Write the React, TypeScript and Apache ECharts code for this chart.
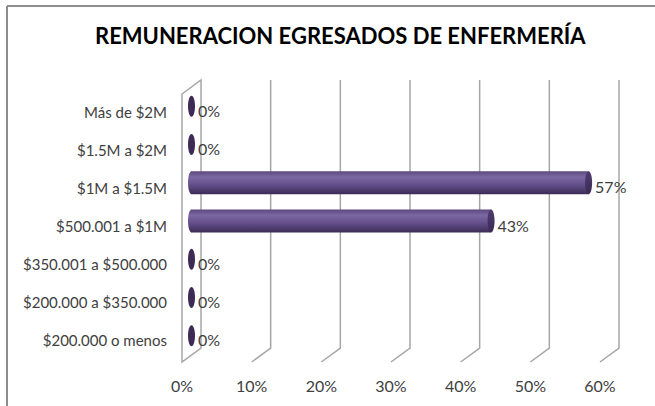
import React, { useEffect, useRef } from "react";
import * as echarts from "echarts";

const titleText = "REMUNERACION EGRESADOS DE ENFERMERÍA";
const categories = [
  "$200.000 o menos",
  "$200.000 a $350.000",
  "$350.001 a $500.000",
  "$500.001 a $1M",
  "$1M a $1.5M",
  "$1.5M a $2M",
  "Más de $2M",
];
const values = [0, 0, 0, 43, 57, 0, 0];
const xTicks = [0, 10, 20, 30, 40, 50, 60];

const FONT = "Lato, 'Open Sans', sans-serif";
const DX = 9.5;
const DY = 7;

export default function App() {
  const ref = useRef<HTMLDivElement>(null);
  useEffect(() => {
    if (!ref.current) return;
    const chart = echarts.init(ref.current, null, { renderer: "svg" });
    const xMax = xTicks[xTicks.length - 1];
    const bodyGrad = new echarts.graphic.LinearGradient(0, 0, 0, 1, [
      { offset: 0, color: "#5c487c" },
      { offset: 0.25, color: "#7b68a3" },
      { offset: 0.55, color: "#68528f" },
      { offset: 1, color: "#3c2c55" },
    ]);
    const capGrad = new echarts.graphic.LinearGradient(0, 0, 0, 1, [
      { offset: 0, color: "#4f3c6e" },
      { offset: 1, color: "#3a2a54" },
    ]);
    const option: any = {
      animation: false,
      backgroundColor: "#ffffff",
      title: {
        text: titleText,
        left: 90,
        top: 19,
        textStyle: { fontFamily: FONT, fontSize: 22, fontWeight: "bold", color: "#000" },
      },
      graphic: [
        { type: "line", shape: { x1: 7, y1: 6, x2: 655, y2: 6 }, style: { stroke: "#8c8c8c", lineWidth: 2 } },
        { type: "line", shape: { x1: 7, y1: 6, x2: 7, y2: 406 }, style: { stroke: "#8c8c8c", lineWidth: 2 } },
      ],
      grid: [
        { left: 182, top: 93, width: 418, height: 266 },
        { left: 191.5, top: 87, width: 418, height: 268 },
      ],
      xAxis: [
        {
          type: "value", gridIndex: 0, min: 0, max: xMax, interval: 10,
          axisLine: { show: false }, axisTick: { show: false }, splitLine: { show: false },
          axisLabel: { formatter: "{value}%", margin: 18, fontSize: 16, color: "#404040", fontFamily: FONT },
        },
        {
          type: "value", gridIndex: 1, min: 0, max: xMax, interval: 10, show: false,
          splitLine: { show: false },
        },
      ],
      yAxis: [
        {
          type: "category", gridIndex: 0, data: categories,
          axisLine: { show: false }, axisTick: { show: false },
          axisLabel: { fontSize: 15, color: "#404040", margin: 15, fontFamily: FONT },
        },
        { type: "category", gridIndex: 1, data: categories, show: false },
      ],
      series: [
        {
          type: "custom",
          xAxisIndex: 1,
          yAxisIndex: 1,
          z: 1,
          clip: false,
          silent: true,
          data: xTicks.map((t) => [t, 0]),
          renderItem: (params: any, api: any) => {
            const v = api.value(0);
            const cs = params.coordSys;
            const mx = api.coord([v, 0])[0];
            const top = cs.y;
            const bottom = cs.y + cs.height;
            const style = { stroke: "#a6a6a6", lineWidth: 1.5, fill: "none" };
            if (v === 0) {
              return {
                type: "polygon",
                shape: {
                  points: [
                    [mx - DX, top + DY],
                    [mx + DX, top - DY],
                    [mx + DX, bottom - DY],
                    [mx - DX, bottom + DY],
                  ],
                },
                style,
              };
            }
            return {
              type: "polyline",
              shape: {
                points: [
                  [mx + DX, top - DY],
                  [mx + DX, bottom - DY],
                  [mx - DX, bottom + DY],
                ],
              },
              style,
            };
          },
        },
        {
          type: "custom",
          xAxisIndex: 1,
          yAxisIndex: 1,
          z: 3,
          clip: false,
          data: values.map((v, i) => [v, i]),
          renderItem: (params: any, api: any) => {
            const v = api.value(0);
            const i = api.value(1);
            const s = api.coord([0, i]);
            const e = api.coord([v, i]);
            const h = api.size([0, 1])[1] * 0.6;
            const yc = s[1];
            const rx = 3.5;
            const children: any[] = [];
            if (v > 0) {
              children.push({
                type: "ellipse",
                shape: { cx: s[0], cy: yc, rx, ry: h / 2 },
                style: { fill: bodyGrad },
              });
              children.push({
                type: "rect",
                shape: { x: s[0], y: yc - h / 2, width: e[0] - s[0], height: h },
                style: { fill: bodyGrad },
              });
              children.push({
                type: "ellipse",
                shape: { cx: e[0], cy: yc, rx, ry: h / 2 },
                style: { fill: capGrad },
              });
            } else {
              children.push({
                type: "ellipse",
                shape: { cx: s[0], cy: yc, rx, ry: h / 2 - 1 },
                style: { fill: "#3d2a56" },
              });
            }
            children.push({
              type: "text",
              style: {
                x: e[0] + rx + 3,
                y: yc + 4,
                text: `${v}%`,
                fontSize: 16,
                fontFamily: FONT,
                fill: "#404040",
                verticalAlign: "middle",
                align: "left",
              },
            });
            return { type: "group", children };
          },
        },
      ],
    };
    chart.setOption(option);
    return () => chart.dispose();
  }, []);
  return (
    <div
      ref={ref}
      style={{ position: "fixed", left: 0, top: 0, width: 655, height: 406 }}
    />
  );
}
